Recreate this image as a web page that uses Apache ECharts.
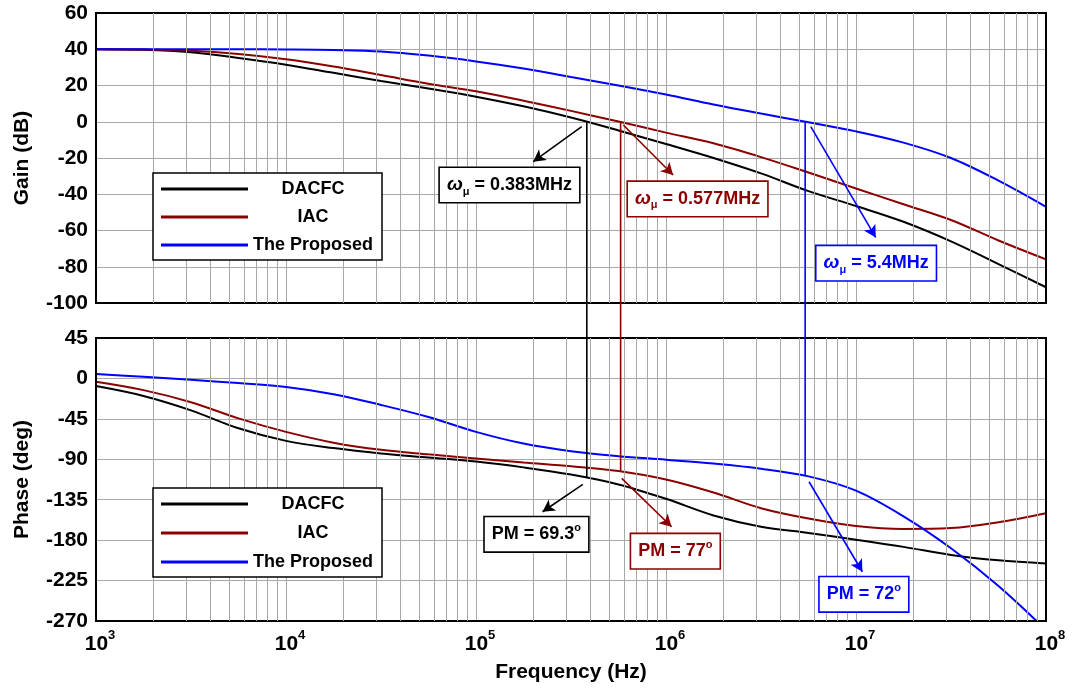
<!DOCTYPE html>
<html><head><meta charset="utf-8">
<script src="https://cdn.jsdelivr.net/npm/echarts@6/dist/echarts.min.js"></script>
<style>html,body{margin:0;padding:0;background:#fff}#c{width:1074px;height:688px}</style>
</head><body><div id="c"></div>
<script>
// ---------- data (quarter-decade samples) ----------
const freqHz = [1e3,1.778e3,3.162e3,5.623e3,1e4,1.778e4,3.162e4,5.623e4,1e5,1.778e5,3.162e5,5.623e5,
                1e6,1.778e6,3.162e6,5.623e6,1e7,1.778e7,3.162e7,5.623e7,1e8];
const gainDACFC    = [40,39.7,38.3,35.2,31.5,27,22.5,18.3,13.8,8.5,2.3,-4.8,-12.3,-20,-28.5,-38.3,-46.5,-55.2,-66,-78.5,-91.3];
const gainIAC      = [40,39.8,39.2,37.4,34.5,30.5,25.8,21,16.8,11.6,6,0.1,-6,-11.9,-19.5,-28,-36.8,-45.5,-54.2,-65.5,-75.9];
const gainProposed = [40,40,40,40,39.9,39.6,38.8,36.5,33.3,29.4,24.7,20,15,9.5,4.5,-0.3,-5.3,-11.5,-20,-32.5,-46.9];
const phaseDACFC    = [-8.5,-19.5,-35.5,-55.5,-69.5,-77.5,-83.5,-88,-92.5,-99,-107,-118,-134,-152.5,-165,-172,-179.5,-187.5,-196.5,-202.5,-206];
const phaseIAC      = [-3.7,-13,-26.5,-44.5,-59.5,-71.5,-79.5,-84.5,-89,-93.5,-97.7,-103,-112.5,-127,-144.5,-156,-164.3,-167.5,-166.5,-160,-150];
const phaseProposed = [5,1.8,-1.5,-5.2,-9.5,-17.5,-29.5,-43,-59.5,-72.5,-81,-86.5,-90.5,-94.8,-100.5,-109,-124.9,-153.5,-189,-231,-280];
const seriesNames = ['DACFC','IAC','The Proposed'];
const crossoverHz = [3.83e5, 5.77e5, 5.4e6];
const phaseAtCrossover = [-110.7, -103, -108];
const crossoverText = ['0.383MHz','0.577MHz','5.4MHz'];
const pmText = ['69.3','77','72'];
const freqTickExponents = [3,4,5,6,7,8];
const minorGridHz = [2e3,3e3,4e3,5e3,6e3,7e3,8e3,9e3,2e4,3e4,4e4,5e4,6e4,7e4,8e4,9e4,
  2e5,3e5,4e5,5e5,6e5,7e5,8e5,9e5,2e6,3e6,4e6,5e6,6e6,7e6,8e6,9e6,2e7,3e7,4e7,5e7,6e7,7e7,8e7,9e7];

// ---------- styles ----------
const colors = ['#000000','#8b0000','#0000ff'];
const FONT = '"Liberation Sans", Arial, sans-serif';
const gridGray = '#a8a8a8';

// annotation placement (data coords)
const gainArrows = [
  [[3.6e5,-2.7],[2.0e5,-22]],
  [[5.96e5,-1.8],[1.09e6,-29.4]],
  [[5.78e6,-2.7],[1.27e7,-63.8]]
];
const gainBoxes = [[1.5e5,-34.9],[1.466e6,-42.6],[1.276e7,-78]];
const phaseArrows = [
  [[3.65e5,-117.9],[2.24e5,-148.4]],
  [[5.85e5,-111.2],[1.07e6,-165.1]],
  [[5.66e6,-115],[1.08e7,-215.2]]
];
const phaseBoxes = [[2.08e5,-173.5],[1.12e6,-192.3],[1.1e7,-240.3]];

const pair = (xs, ys) => xs.map((x, i) => [x, ys[i]]);
const gains = [gainDACFC, gainIAC, gainProposed];
const phases = [phaseDACFC, phaseIAC, phaseProposed];

function arrowMarkLine(arrow, color) {
  return {
    silent: true, symbol: ['none','arrow'], symbolSize: [10, 12],
    label: {show: false},
    lineStyle: {color: color, width: 1.6, type: 'solid'},
    emphasis: {disabled: true},
    data: [[{coord: arrow[0]}, {coord: arrow[1]}]]
  };
}

const series = [];
// minor grid lines (behind curves)
[0,1].forEach(g => {
  series.push({
    name: 'grid' + g, type: 'line', xAxisIndex: g, yAxisIndex: g, data: [], z: 1,
    markLine: {
      silent: true, symbol: ['none','none'], label: {show: false},
      lineStyle: {color: gridGray, width: 1, type: 'solid'},
      emphasis: {disabled: true},
      data: minorGridHz.map(f => ({xAxis: f}))
    }
  });
});
seriesNames.forEach((n, i) => {
  series.push({
    name: n, type: 'line', xAxisIndex: 0, yAxisIndex: 0,
    data: pair(freqHz, gains[i]), smooth: 0.35, symbol: 'none',
    lineStyle: {color: colors[i], width: 2}, itemStyle: {color: colors[i]}, z: 3,
    markLine: arrowMarkLine(gainArrows[i], colors[i])
  });
});
seriesNames.forEach((n, i) => {
  series.push({
    name: n, type: 'line', xAxisIndex: 1, yAxisIndex: 1,
    data: pair(freqHz, phases[i]), smooth: 0.35, symbol: 'none',
    lineStyle: {color: colors[i], width: 2}, itemStyle: {color: colors[i]}, z: 3,
    markLine: arrowMarkLine(phaseArrows[i], colors[i])
  });
});

const axisLbl = {fontSize: 21, fontWeight: 'bold', color: '#000', fontFamily: FONT, margin: 8};
const splitL = {show: true, showMinLine: false, showMaxLine: false, lineStyle: {color: gridGray, width: 1}};

function xAxis(g, showLabels) {
  return {
    gridIndex: g, type: 'log', logBase: 10, min: 1e3, max: 1e8,
    axisLine: {show: false}, axisTick: {show: false}, splitLine: splitL,
    name: showLabels ? 'Frequency (Hz)' : '', nameLocation: 'middle', nameGap: 41,
    nameTextStyle: {fontSize: 21, fontWeight: 'bold', color: '#000', fontFamily: FONT},
    axisLabel: showLabels ? {
      show: true, margin: 8, color: '#000', fontFamily: FONT, padding: [0, 0, 0, 8],
      formatter: v => {
        const e = Math.round(Math.log10(v));
        return freqTickExponents.indexOf(e) >= 0 ? '{b|10}{s|' + e + '}' : '';
      },
      rich: {
        b: {fontSize: 21, fontWeight: 'bold', fontFamily: FONT, color: '#000', lineHeight: 26, verticalAlign: 'bottom'},
        s: {fontSize: 13, fontWeight: 'bold', fontFamily: FONT, color: '#000', lineHeight: 14, verticalAlign: 'top'}
      }
    } : {show: false}
  };
}
function legend(top, gap) {
  return {
    data: seriesNames, orient: 'vertical', left: 153, top: top,
    icon: 'rect', itemWidth: 87, itemHeight: 3, itemGap: gap,
    padding: [7, 9, 6, 8], borderColor: '#000', borderWidth: 1.5, backgroundColor: '#fff',
    formatter: n => '{t|' + n + '}',
    textStyle: {rich: {t: {width: 120, align: 'center', fontSize: 18, fontWeight: 'bold', fontFamily: FONT, color: '#000', lineHeight: 20}}},
    z: 10
  };
}

const option = {
  animation: false,
  backgroundColor: '#fff',
  grid: [
    {left: 96, top: 13, width: 950, height: 290, show: true, borderColor: '#000', borderWidth: 2, backgroundColor: 'transparent', z: 5},
    {left: 96, top: 338, width: 950, height: 283, show: true, borderColor: '#000', borderWidth: 2, backgroundColor: 'transparent', z: 5}
  ],
  legend: [legend(173, 10), legend(488, 11)],
  xAxis: [xAxis(0, false), xAxis(1, true)],
  yAxis: [
    {gridIndex: 0, type: 'value', min: -100, max: 60, interval: 20,
     axisLine: {show: false}, axisTick: {show: false}, splitLine: splitL, axisLabel: axisLbl,
     name: 'Gain (dB)', nameLocation: 'middle', nameGap: 63,
     nameTextStyle: {fontSize: 21, fontWeight: 'bold', color: '#000', fontFamily: FONT}},
    {gridIndex: 1, type: 'value', min: -270, max: 45, interval: 45,
     axisLine: {show: false}, axisTick: {show: false}, splitLine: splitL, axisLabel: axisLbl,
     name: 'Phase (deg)', nameLocation: 'middle', nameGap: 63,
     nameTextStyle: {fontSize: 21, fontWeight: 'bold', color: '#000', fontFamily: FONT}}
  ],
  series: series
};

const chart = echarts.init(document.getElementById('c'), null, {renderer: 'canvas'});
chart.setOption(option);

// ---------- annotations through the chart's own scales ----------
const gfx = [];
function boxText(center, g, color, rich, text) {
  const p = chart.convertToPixel({xAxisIndex: g, yAxisIndex: g}, center);
  gfx.push({
    type: 'text', x: p[0], y: p[1], z: 100, silent: true,
    style: {
      text: text, rich: rich, align: 'center', verticalAlign: 'middle',
      fill: color, font: 'bold 18px ' + FONT,
      backgroundColor: '#fff', borderColor: color, borderWidth: 1.6, padding: [5, 7, 5, 7]
    }
  });
}
seriesNames.forEach((n, i) => {
  const c = colors[i];
  const top = chart.convertToPixel({xAxisIndex: 0, yAxisIndex: 0}, [crossoverHz[i], 0]);
  const bot = chart.convertToPixel({xAxisIndex: 1, yAxisIndex: 1}, [crossoverHz[i], phaseAtCrossover[i]]);
  gfx.push({type: 'line', z: 50, silent: true,
    shape: {x1: top[0], y1: top[1], x2: bot[0], y2: bot[1]},
    style: {stroke: c, lineWidth: 1.6}});
  const baseRich = {
    w: {fill: c, fontStyle: 'italic', fontWeight: 'bold', fontSize: 19, fontFamily: FONT, lineHeight: 24, verticalAlign: 'middle'},
    m: {fill: c, fontWeight: 'bold', fontSize: 11, fontFamily: FONT, lineHeight: 12, verticalAlign: 'bottom'},
    t: {fill: c, fontWeight: 'bold', fontSize: 18, fontFamily: FONT, lineHeight: 24, verticalAlign: 'middle'},
    o: {fill: c, fontWeight: 'bold', fontSize: 11, fontFamily: FONT, lineHeight: 12, verticalAlign: 'top'}
  };
  boxText(gainBoxes[i], 0, c, baseRich, '{w|ω}{m|μ}{t| = ' + crossoverText[i] + '}');
  boxText(phaseBoxes[i], 1, c, baseRich, '{t|PM = ' + pmText[i] + '}{o|o}');
});
chart.setOption({graphic: gfx});
</script>
</body></html>
